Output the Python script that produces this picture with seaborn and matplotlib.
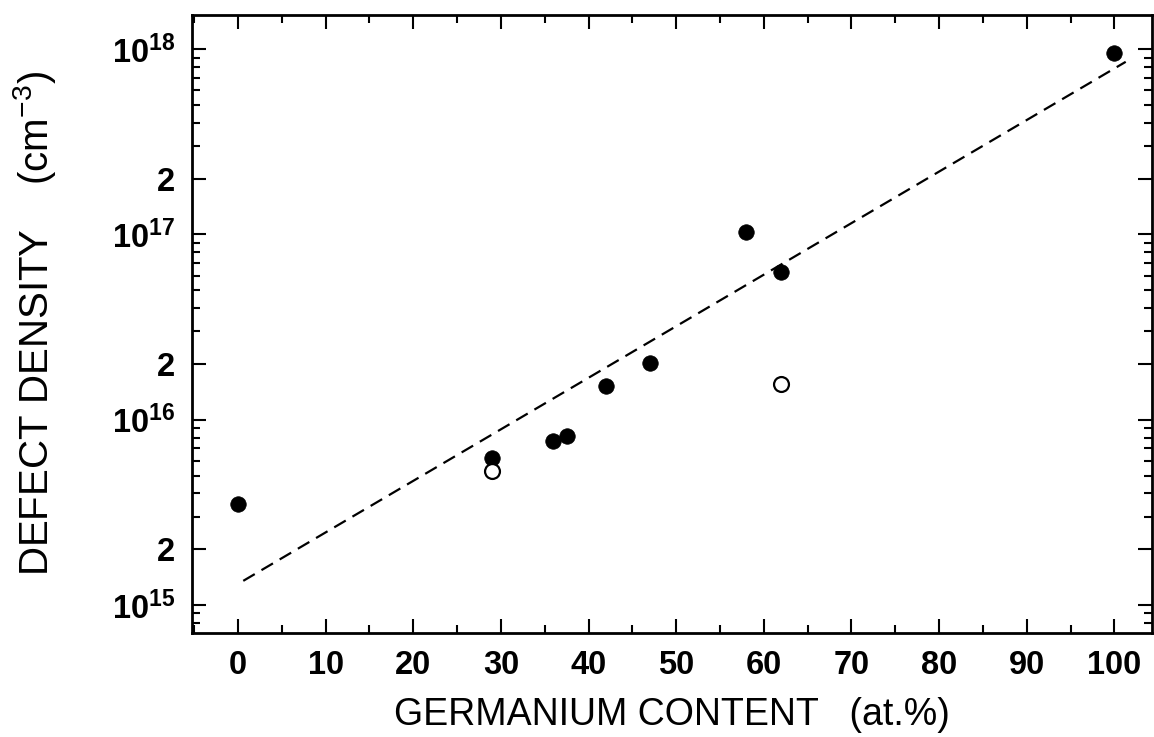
import matplotlib
matplotlib.use("Agg")
import matplotlib.pyplot as plt
import matplotlib.ticker as mticker
import seaborn as sns

# germanium content (at.%) and defect density (cm-3)
ge_filled = [0, 29, 36, 37.5, 42, 47, 58, 62, 100]
dens_filled = [3.5e15, 6.2e15, 7.7e15, 8.2e15, 1.52e16, 2.03e16, 1.03e17, 6.3e16, 9.5e17]
ge_open = [29, 62]
dens_open = [5.3e15, 1.55e16]
# dashed fit line endpoints
fit_ge = [0.6, 101.3]
fit_dens = [1.35e15, 8.55e17]

x_ticks = [0, 10, 20, 30, 40, 50, 60, 70, 80, 90, 100]
y_ticks = [1e15, 2e15, 1e16, 2e16, 1e17, 2e17, 1e18]
y_ticklabels = [r"$\mathregular{10^{15}}$", "2", r"$\mathregular{10^{16}}$", "2",
                r"$\mathregular{10^{17}}$", "2", r"$\mathregular{10^{18}}$"]

sns.set_style("ticks", {"axes.edgecolor": "black", "text.color": "black",
                        "axes.labelcolor": "black", "xtick.color": "black",
                        "ytick.color": "black"})
plt.rcParams["font.family"] = ["Liberation Sans", "DejaVu Sans"]
plt.rcParams["mathtext.fontset"] = "custom"
plt.rcParams["mathtext.rm"] = "Liberation Sans"

fig = plt.figure(figsize=(11.54, 7.37), dpi=100)
ax = fig.add_axes([192 / 1154, 1 - 633 / 737, 960 / 1154, 618 / 737])

sns.lineplot(x=fit_ge, y=fit_dens, color="black", linewidth=1.6, ax=ax, sort=False)
ax.lines[-1].set_dashes((6, 3.5))
sns.scatterplot(x=ge_filled, y=dens_filled, color="black", s=125, edgecolor="black",
                linewidth=0.5, ax=ax, zorder=3)
sns.scatterplot(x=ge_open, y=dens_open, color="white", s=115, edgecolor="black",
                linewidth=1.6, ax=ax, zorder=3)

ax.set_yscale("log")
ax.set_xlim(-5.25, 104.3)
ax.set_ylim(7.06e14, 1.53e18)

ax.set_xticks(x_ticks)
ax.set_xticklabels([str(v) for v in x_ticks], fontsize=23.5, fontweight="bold")
ax.xaxis.set_minor_locator(mticker.MultipleLocator(5))
ax.set_yticks(y_ticks)
ax.set_yticklabels(y_ticklabels, fontsize=23.5, fontweight="bold")
ax.yaxis.set_minor_locator(mticker.LogLocator(base=10, subs=[3, 4, 5, 6, 7, 8, 9]))
ax.yaxis.set_minor_formatter(mticker.NullFormatter())

ax.tick_params(which="both", direction="in", top=True, right=True, width=1.5)
ax.tick_params(which="major", length=10, pad=12)
ax.tick_params(which="minor", length=6)

for sp in ax.spines.values():
    sp.set_linewidth(2)
    sp.set_visible(True)

ax.set_xlabel("GERMANIUM CONTENT   (at.%)", fontsize=27, labelpad=12)
ax.set_ylabel(r"DEFECT DENSITY    (cm$^{\mathregular{-3}}$)", fontsize=29, labelpad=39)

fig.savefig("out.png", dpi=100)
